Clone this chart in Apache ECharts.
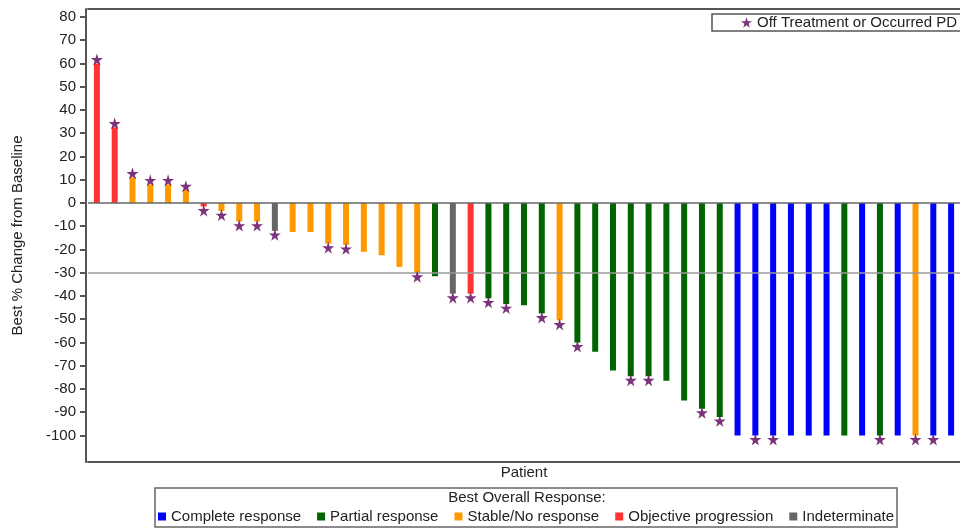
<!DOCTYPE html>
<html>
<head>
<meta charset="utf-8">
<script src="https://cdn.jsdelivr.net/npm/echarts@6/dist/echarts.min.js"></script>
<style>html,body{margin:0;padding:0;background:#fff;}#c{width:960px;height:529px;}</style>
</head>
<body>
<div id="c"></div>
<script>
// ---- data ----
const patients = [1,2,3,4,5,6,7,8,9,10,11,12,13,14,15,16,17,18,19,20,21,22,23,24,25,26,27,28,29,30,31,32,33,34,35,36,37,38,39,40,41,42,43,44,45,46,47,48,49];
const bestChange = [60, 32.5, 11, 8, 8, 5.5, -1.5, -3.5, -8, -8,
  -12, -12.5, -12.5, -17.5, -18, -21, -22.5, -27.5, -30, -31.5,
  -39, -39, -41, -43.5, -44, -47.5, -50.5, -60, -64, -72,
  -74.5, -74.5, -76.5, -85, -88.5, -92, -100, -100, -100, -100,
  -100, -100, -100, -100, -100, -100, -100, -100, -100];
const response = ['PD','PD','SD','SD','SD','SD','PD','SD','SD','SD',
  'NE','SD','SD','SD','SD','SD','SD','SD','SD','PR',
  'NE','PD','PR','PR','PR','PR','SD','PR','PR','PR',
  'PR','PR','PR','PR','PR','PR','CR','CR','CR','CR',
  'CR','CR','PR','CR','PR','CR','SD','CR','CR'];
const offTreatment = [1,1,1,1,1,1,1,1,1,1,
  1,0,0,1,1,0,0,0,1,0,
  1,1,1,1,0,1,1,1,0,0,
  1,1,0,0,1,1,0,1,1,0,
  0,0,0,0,1,0,1,1,0];
const responseCodes = ['CR','PR','SD','PD','NE'];
const responseNames = ['Complete response','Partial response','Stable/No response','Objective progression','Indeterminate'];
const yTickValues = [80,70,60,50,40,30,20,10,0,-10,-20,-30,-40,-50,-60,-70,-80,-90,-100];
const refLines = [-30, 0];

// ---- styles ----
const colors = {CR:'#0000ff', PR:'#006400', SD:'#ff9900', PD:'#ff3333', NE:'#666666'};
const starColor = '#5a005a';
const starPath = 'path://M50,0 L61,35 L98,35 L68,57 L79,91 L50,70 L21,91 L32,57 L2,35 L39,35 Z';
const FONT = 'Liberation Sans, Arial, sans-serif';
const FS = 15;

const barSeries = responseCodes.map((code, k) => ({
  name: responseNames[k],
  type: 'bar',
  xAxisIndex: 0,
  barWidth: 6,
  barGap: '-100%',
  itemStyle: {color: colors[code]},
  data: bestChange.map((v, i) => response[i] === code ? v : '-'),
  z: 3,
  markLine: k === 0 ? {
    silent: true,
    symbol: 'none',
    label: {show: false},
    animation: false,
    data: [
      {yAxis: refLines[0], lineStyle: {color: '#9a9a9a', width: 1.5, type: 'solid'}},
      {yAxis: refLines[1], lineStyle: {color: '#666666', width: 1.5, type: 'solid'}}
    ]
  } : undefined
}));

const starSeries = {
  name: 'Off Treatment or Occurred PD',
  type: 'scatter',
  xAxisIndex: 0,
  symbol: starPath,
  symbolSize: 12,
  itemStyle: {color: starColor},
  z: 5,
  data: bestChange.map((v, i) => offTreatment[i] ? {value: v, symbolOffset: [0, v >= 0 ? -4 : 4]} : '-')
};

const chart = echarts.init(document.getElementById('c'), null, {renderer: 'canvas'});
chart.setOption({
  animation: false,
  backgroundColor: '#ffffff',
  textStyle: {fontFamily: FONT},
  grid: {left: 88, top: 9, width: 878, bottom: 67, show: false},
  xAxis: [{
    type: 'category',
    data: patients,
    position: 'bottom',
    boundaryGap: true,
    name: 'Patient',
    nameLocation: 'middle',
    nameGap: 3,
    nameTextStyle: {color: '#222', fontSize: FS, fontFamily: FONT},
    axisLine: {show: true, onZero: false, lineStyle: {color: '#555', width: 2}},
    axisTick: {show: false},
    axisLabel: {show: false},
    splitLine: {show: false}
  }, {
    type: 'category',
    data: patients,
    position: 'top',
    axisLine: {show: true, onZero: false, lineStyle: {color: '#555', width: 2}},
    axisTick: {show: false},
    axisLabel: {show: false},
    splitLine: {show: false}
  }],
  yAxis: {
    type: 'value',
    min: -111.4,
    max: 83.4,
    offset: 2,
    name: 'Best % Change from Baseline',
    nameLocation: 'middle',
    nameGap: 61,
    nameTextStyle: {color: '#222', fontSize: FS, fontFamily: FONT},
    axisLine: {show: true, lineStyle: {color: '#555', width: 2}},
    axisTick: {show: true, length: 6, customValues: yTickValues, lineStyle: {color: '#555', width: 2}},
    axisLabel: {show: true, customValues: yTickValues, margin: 10, color: '#222', fontSize: FS, fontFamily: FONT},
    splitLine: {show: false}
  },
  legend: [{
    data: responseNames,
    left: 155,
    top: 488,
    orient: 'horizontal',
    icon: 'rect',
    itemWidth: 8,
    itemHeight: 8,
    itemGap: 16,
    padding: [21, 3, 3, 3],
    borderColor: '#666',
    borderWidth: 1.5,
    textStyle: {color: '#222', fontSize: FS, fontFamily: FONT}
  }, {
    data: ['Off Treatment or Occurred PD'],
    left: 712,
    top: 14,
    icon: starPath,
    itemWidth: 11,
    itemHeight: 11,
    padding: [1, 30, 1, 29],
    borderColor: '#555',
    borderWidth: 1.5,
    textStyle: {color: '#222', fontSize: FS, fontFamily: FONT}
  }],
  graphic: [{
    type: 'text',
    x: 527,
    y: 490,
    style: {text: 'Best Overall Response:', fill: '#222', font: FS + 'px ' + FONT, textAlign: 'center', textVerticalAlign: 'top'}
  }],
  series: barSeries.concat([starSeries])
});
</script>
</body>
</html>
